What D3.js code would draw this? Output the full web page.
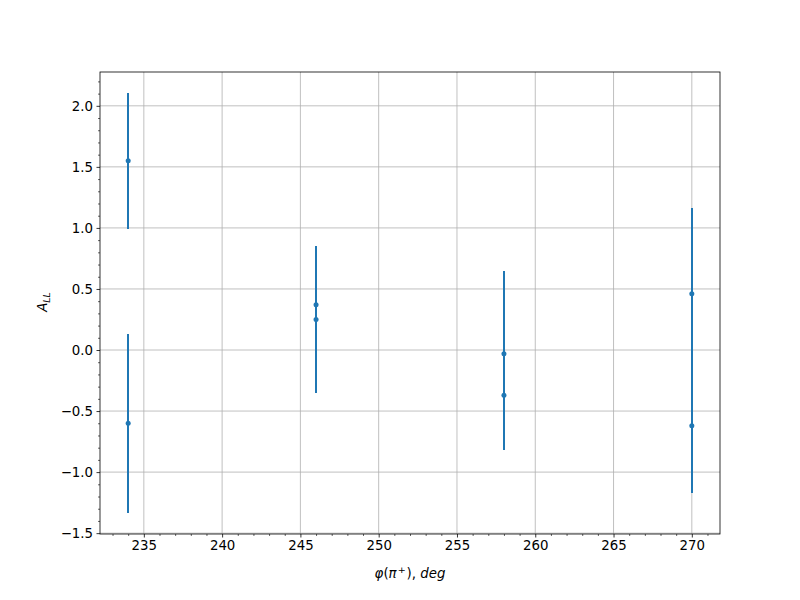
<!DOCTYPE html>
<html><head><meta charset="utf-8">
<script src="https://cdn.jsdelivr.net/npm/d3@7"></script>
<style>body{margin:0;background:#fff}text{font-family:"DejaVu Sans",sans-serif}</style>
</head><body><svg id="c" width="800" height="600"></svg>
<script>
const xValues = [234, 234, 246, 246, 258, 258, 270, 270];
const yValues = [1.55, -0.60, 0.37, 0.25, -0.03, -0.37, 0.46, -0.62];
const yErrors = [0.555, 0.735, 0.48, 0.60, 0.68, 0.45, 0.70, 0.55];
const xTicks = [235, 240, 245, 250, 255, 260, 265, 270];
const yTicks = [-1.5, -1.0, -0.5, 0.0, 0.5, 1.0, 1.5, 2.0];

const svg = d3.select("#c");
const L = 100, R = 720, T = 72, B = 534;
const color = "#1f77b4";
const lo = d3.min(yValues.map((v,i)=>v-yErrors[i])), hi = d3.max(yValues.map((v,i)=>v+yErrors[i]));
const ym = (hi-lo)*0.05;
const xmin = d3.min(xValues), xmax = d3.max(xValues), xm = (xmax-xmin)*0.05;
const x = d3.scaleLinear().domain([xmin-xm, xmax+xm]).range([L, R]);
const y = d3.scaleLinear().domain([lo-ym, hi+ym]).range([B, T]);
const fmtY = v => d3.format(".1f")(v).replace("-", "\u2212");

// grid
const g = svg.append("g");
g.selectAll(".gx").data(xTicks).join("line").attr("x1",d=>x(d)).attr("x2",d=>x(d)).attr("y1",T).attr("y2",B).attr("stroke","#b0b0b0").attr("stroke-width",0.8);
g.selectAll(".gy").data(yTicks).join("line").attr("y1",d=>y(d)).attr("y2",d=>y(d)).attr("x1",L).attr("x2",R).attr("stroke","#b0b0b0").attr("stroke-width",0.8);

// axes
const xAxis = d3.axisBottom(x).tickValues(xTicks).tickSize(3.5).tickPadding(3.5).tickFormat(d3.format("d"));
const yAxis = d3.axisLeft(y).tickValues(yTicks).tickSize(3.5).tickPadding(3.5).tickFormat(fmtY);
const xMinor = d3.range(Math.ceil(x.domain()[0]), x.domain()[1], 1).filter(v => v % 5 !== 0);
const yMinor = d3.range(Math.ceil(y.domain()[0]*10), y.domain()[1]*10, 1).filter(v => v % 5 !== 0).map(v=>v/10);
svg.append("g").attr("transform",`translate(0,${B})`).call(d3.axisBottom(x).tickValues(xMinor).tickSize(2).tickFormat(""))
  .call(a=>{a.select(".domain").remove(); a.selectAll("line").attr("stroke-width",0.6);});
svg.append("g").attr("transform",`translate(${L},0)`).call(d3.axisLeft(y).tickValues(yMinor).tickSize(2).tickFormat(""))
  .call(a=>{a.select(".domain").remove(); a.selectAll("line").attr("stroke-width",0.6);});
svg.append("g").attr("transform",`translate(0,${B})`).call(xAxis)
  .call(a=>{a.select(".domain").remove(); a.selectAll("line").attr("stroke-width",0.8); a.selectAll("text").attr("font-size","13.33px").attr("fill","#000").attr("font-family","DejaVu Sans");});
svg.append("g").attr("transform",`translate(${L},0)`).call(yAxis)
  .call(a=>{a.select(".domain").remove(); a.selectAll("line").attr("stroke-width",0.8); a.selectAll("text").attr("font-size","13.33px").attr("fill","#000").attr("font-family","DejaVu Sans");});

// data
const pts = xValues.map((v,i)=>({x:v,y:yValues[i],e:yErrors[i]}));
svg.append("g").selectAll("line").data(pts).join("line")
  .attr("x1",d=>Math.round(x(d.x))).attr("x2",d=>Math.round(x(d.x))).attr("y1",d=>y(d.y-d.e)).attr("y2",d=>y(d.y+d.e))
  .attr("stroke",color).attr("stroke-width",2).attr("shape-rendering","crispEdges");
svg.append("g").selectAll("circle").data(pts).join("circle")
  .attr("cx",d=>x(d.x)).attr("cy",d=>y(d.y)).attr("r",2.5).attr("fill",color);

// frame
svg.append("rect").attr("x",L).attr("y",T).attr("width",R-L).attr("height",B-T).attr("fill","none").attr("stroke","#000").attr("stroke-width",0.8);

// labels
const xl = svg.append("text").attr("x",(L+R)/2).attr("y",578).attr("text-anchor","middle").attr("font-size","13.33px");
xl.append("tspan").attr("font-style","italic").text("\u03c6");
xl.append("tspan").text("(");
xl.append("tspan").attr("font-style","italic").text("\u03c0");
xl.append("tspan").attr("font-size","9.5px").attr("dy",-5).attr("dx",1).text("+");
xl.append("tspan").attr("dy",5).attr("dx",1).text("), ");
xl.append("tspan").attr("font-style","italic").text("deg");

const yl = svg.append("text").attr("transform","translate(47,302) rotate(-90)").attr("text-anchor","middle").attr("font-size","13.33px");
yl.append("tspan").attr("font-style","italic").text("A");
yl.append("tspan").attr("font-style","italic").attr("font-size","9.5px").attr("dy",3).text("LL");
</script></body></html>
